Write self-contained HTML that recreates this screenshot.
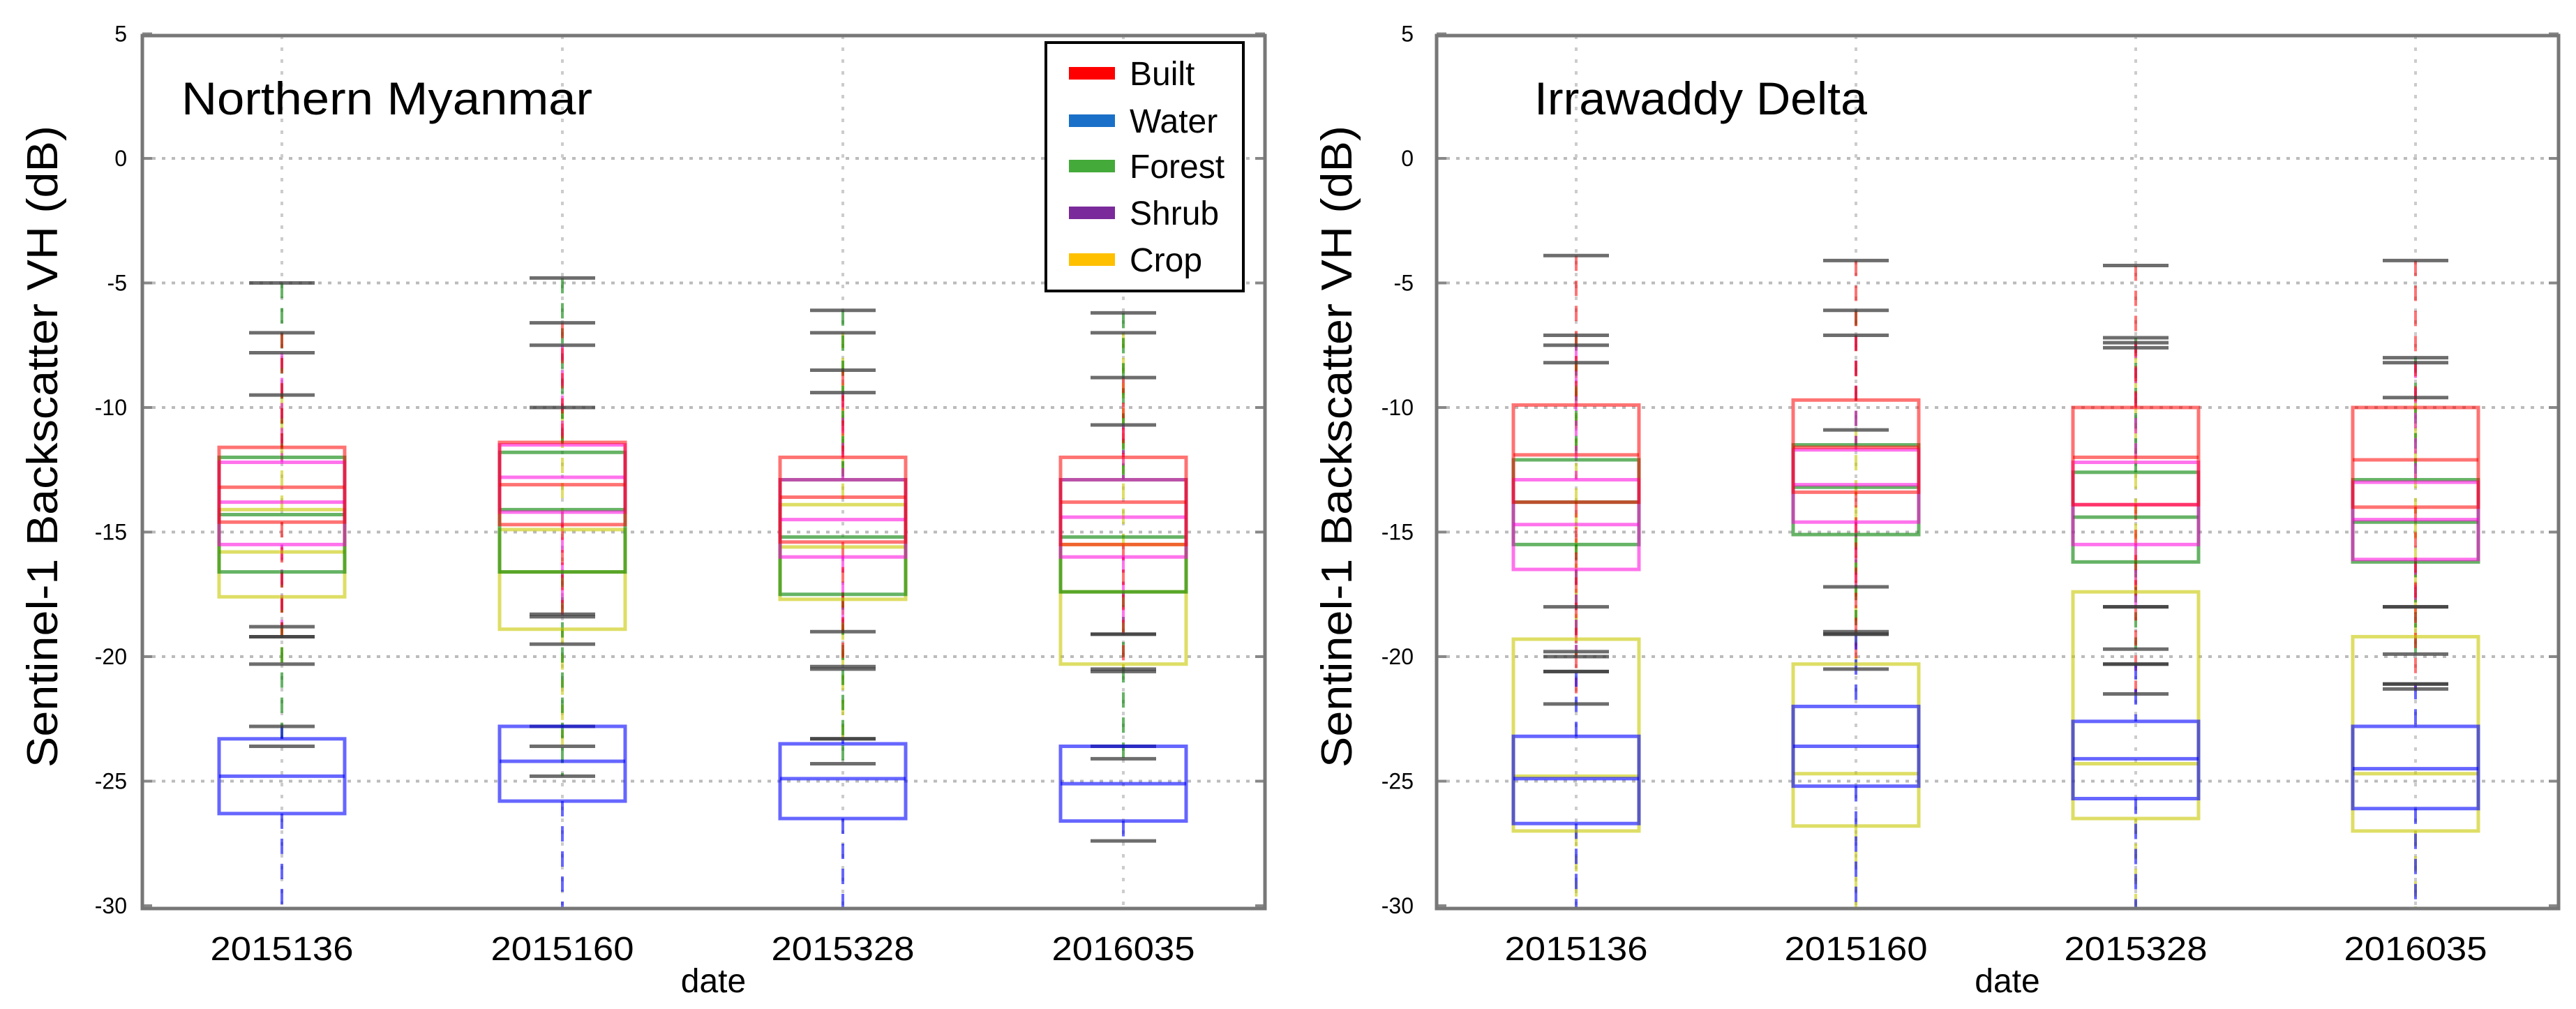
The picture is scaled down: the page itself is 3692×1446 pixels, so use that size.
<!DOCTYPE html>
<html><head><meta charset="utf-8">
<style>
html,body{margin:0;padding:0;background:#fff;}
svg{display:block;}
text{font-family:"Liberation Sans",sans-serif;fill:#000;}
</style></head>
<body>
<svg id="chart" width="3692" height="1446" viewBox="0 0 3692 1446" xmlns="http://www.w3.org/2000/svg"></svg>
<script>
// ---- data ----
const categories = ["2015136","2015160","2015328","2016035"];
const yTicks = [5,0,-5,-10,-15,-20,-25,-30];
const classNames = ["Built","Water","Forest","Shrub","Crop"];
// each entry: [low whisker, q1, median, q3, high whisker]
const nmBuilt  = [[-19.2,-14.6,-13.2,-11.6,-7],[-18.4,-14.7,-13.1,-11.4,-6.6],[-20.4,-15.4,-13.6,-12.0,-8.5],[-20.5,-15.5,-13.8,-12.0,-8.8]];
const nmWater  = [[-31,-26.3,-24.8,-23.3,-22.8],[-31,-25.8,-24.2,-22.8,-22.8],[-31,-26.5,-24.9,-23.5,-23.3],[-27.4,-26.6,-25.1,-23.6,-23.6]];
const nmForest = [[-23.6,-16.6,-14.3,-12.0,-5],[-24.8,-16.6,-14.1,-11.8,-4.8],[-24.3,-17.5,-15.2,-12.9,-6.1],[-24.1,-17.4,-15.2,-12.9,-6.2]];
const nmShrub  = [[-18.8,-15.5,-13.8,-12.2,-7.8],[-18.3,-14.2,-12.8,-11.5,-7.5],[-19.0,-16.0,-14.5,-12.9,-9.4],[-19.1,-16.0,-14.4,-12.9,-10.7]];
const nmCrop   = [[-20.3,-17.6,-15.8,-14.1,-9.5],[-23.6,-18.9,-16.6,-14.9,-10],[-23.3,-17.7,-15.6,-13.9,-7],[-20.6,-20.3,-17.4,-15.5,-7]];
const idBuilt  = [[-21.9,-13.8,-11.9,-9.9,-3.9],[-20.5,-13.4,-11.6,-9.7,-4.1],[-21.5,-13.9,-12.0,-10.0,-4.3],[-21.3,-14.0,-12.1,-10.0,-4.1]];
const idWater  = [[-31,-26.7,-24.9,-23.2,-20.6],[-31,-25.2,-23.6,-22.0,-19.1],[-31,-25.7,-24.1,-22.6,-20.3],[-31,-26.1,-24.5,-22.8,-21.1]];
const idForest = [[-20.0,-15.5,-13.8,-12.1,-7.1],[-19.0,-15.1,-13.2,-11.5,-6.1],[-19.7,-16.2,-14.4,-12.6,-7.2],[-19.9,-16.2,-14.6,-12.9,-8.0]];
const idShrub  = [[-19.8,-16.5,-14.7,-12.9,-7.5],[-17.2,-14.6,-13.1,-11.7,-7.1],[-18.0,-15.5,-13.9,-12.2,-7.4],[-18.0,-16.1,-14.5,-13.0,-8.2]];
const idCrop   = [[-31,-27.0,-24.8,-19.3,-8.2],[-31,-26.8,-24.7,-20.3,-10.9],[-31,-26.5,-24.3,-17.4,-7.6],[-31,-27.0,-24.7,-19.2,-9.6]];
const extraCapsNM = [[-19.2],[-19.5],[-20.5],[-19.1]];
const extraCapsID = [[-18.0,-20.6],[-19.1],[-18.0,-20.3],[-18.0,-21.1]];

const NS="http://www.w3.org/2000/svg";
const svg=document.getElementById('chart');
function mk(tag,attrs,parent){const e=document.createElementNS(NS,tag);for(const k in attrs)e.setAttribute(k,attrs[k]);(parent||svg).appendChild(e);return e;}

const Y0=227, PX=35.7; // y(0), px per dB
function yScale(v){return Y0 - v*PX;}
const TOP=51, BOTTOM=1302;

const strokes={Built:"rgba(255,0,0,0.55)",Water:"rgba(0,0,255,0.6)",Forest:"rgba(0,128,0,0.6)",Shrub:"rgba(255,0,220,0.55)",Crop:"rgba(200,200,0,0.6)"};

function panel(opt){
  const g=mk('g',{});
  
  
  const L=opt.left,R=opt.right;
  const xScale=i=>opt.x0+i*opt.dx;
  const clipId=opt.name+'-clip';
  const cp=mk('clipPath',{id:clipId},g);mk('rect',{x:L,y:TOP,width:R-L,height:BOTTOM-TOP},cp);
  yTicks.forEach(t=>{
    const y=yScale(t);
    if(t!==5&&t!==-30){const gl=mk('line',{x1:L,x2:R,y1:y,y2:y,stroke:"#bbb","stroke-width":4,"stroke-dasharray":"5 9"},g);
    }
    const tl=mk('text',{x:opt.tickX,y:y+11,"text-anchor":"end","font-size":32},g);tl.textContent=String(t);
    
    mk('line',{x1:L,x2:L+14,y1:y,y2:y,stroke:"#888","stroke-width":4},g);
    mk('line',{x1:R-14,x2:R,y1:y,y2:y,stroke:"#888","stroke-width":4},g);
  });
  categories.forEach((c,i)=>{
    const x=xScale(i);
    const gl=mk('line',{x1:x,x2:x,y1:TOP,y2:BOTTOM,stroke:"#ccc","stroke-width":4,"stroke-dasharray":"5 12"},g);
    
    const tl=mk('text',{x:x,y:1376,"text-anchor":"middle","font-size":48,textLength:205,lengthAdjust:"spacingAndGlyphs"},g);tl.textContent=c;
    
  });
  const pg=mk('g',{"clip-path":`url(#${clipId})`},g);
  const order=[["Crop",opt.crop],["Forest",opt.forest],["Shrub",opt.shrub],["Built",opt.built],["Water",opt.water]];
  const hw=90, capHw=47;
  order.forEach(([n,arr])=>{
    arr.forEach((d,i)=>{
      const x=xScale(i);
      const w1=mk('line',{x1:x,x2:x,y1:yScale(d[4]),y2:yScale(d[3]),stroke:strokes[n],"stroke-width":4,"stroke-dasharray":"22 14"},pg);
      
      const w2=mk('line',{x1:x,x2:x,y1:yScale(d[1]),y2:yScale(d[0]),stroke:strokes[n],"stroke-width":4,"stroke-dasharray":"22 14"},pg);
      
    });
  });
  order.forEach(([n,arr])=>{
    arr.forEach((d,i)=>{
      const x=xScale(i);
      [d[0],d[4]].forEach(v=>{
        if(v<-30)return;
        const c=mk('line',{x1:x-capHw,x2:x+capHw,y1:yScale(v),y2:yScale(v),stroke:"rgba(60,60,60,0.75)","stroke-width":5},pg);
        
      });
    });
  });
  opt.extra.forEach((vals,i)=>{const x=xScale(i);vals.forEach(v=>{
    const c=mk('line',{x1:x-capHw,x2:x+capHw,y1:yScale(v),y2:yScale(v),stroke:"rgba(60,60,60,0.75)","stroke-width":5},pg);
    });});
  order.forEach(([n,arr])=>{
    arr.forEach((d,i)=>{
      const x=xScale(i);
      const b=mk('rect',{x:x-hw,y:yScale(d[3]),width:2*hw,height:yScale(d[1])-yScale(d[3]),fill:"none",stroke:strokes[n],"stroke-width":5},pg);
      
      const m=mk('line',{x1:x-hw,x2:x+hw,y1:yScale(d[2]),y2:yScale(d[2]),stroke:strokes[n],"stroke-width":5},pg);
      
    });
  });
  const fr=mk('rect',{x:L,y:TOP,width:R-L,height:BOTTOM-TOP,fill:"none",stroke:"#777","stroke-width":5},g);
  
  const t=mk('text',{x:opt.titleX,y:164,"font-size":66,textLength:opt.titleLen,lengthAdjust:"spacingAndGlyphs"},g);t.textContent=opt.title;
  
  const yl=mk('text',{x:0,y:0,"text-anchor":"middle","font-size":62,textLength:920,lengthAdjust:"spacingAndGlyphs",transform:`translate(${opt.ylX},640) rotate(-90)`},g);
  yl.textContent="Sentinel-1 Backscatter VH (dB)";
  
  const xl=mk('text',{x:(L+R)/2+14,y:1422,"text-anchor":"middle","font-size":48},g);xl.textContent="date";
  
  return g;
}

panel({name:"northern-myanmar-panel",left:204,right:1813,x0:404,dx:402,tickX:182,titleX:260,titleLen:589,ylX:82,title:"Northern Myanmar",
  built:nmBuilt,water:nmWater,forest:nmForest,shrub:nmShrub,crop:nmCrop,extra:extraCapsNM});
panel({name:"irrawaddy-delta-panel",left:2059,right:3667,x0:2259,dx:401,tickX:2026,titleX:2199,titleLen:477,ylX:1937,title:"Irrawaddy Delta",
  built:idBuilt,water:idWater,forest:idForest,shrub:idShrub,crop:idCrop,extra:extraCapsID});

const leg=mk('g',{});


mk('rect',{x:1499,y:61,width:283,height:356,fill:"#fff",stroke:"#000","stroke-width":4},leg);
const legColors=["#ff0000","#1a70c8","#44aa3a","#7a2a9a","#ffc000"];
const legY=[105,173,238,305,372];
classNames.forEach((n,i)=>{
  const e=mk('g',{},leg);
  
  
  mk('rect',{x:1532,y:legY[i]-9,width:66,height:18,fill:legColors[i]},e);
  const t=mk('text',{x:1619,y:legY[i]+17,"font-size":48},e);t.textContent=n;
});
</script>
</body></html>
